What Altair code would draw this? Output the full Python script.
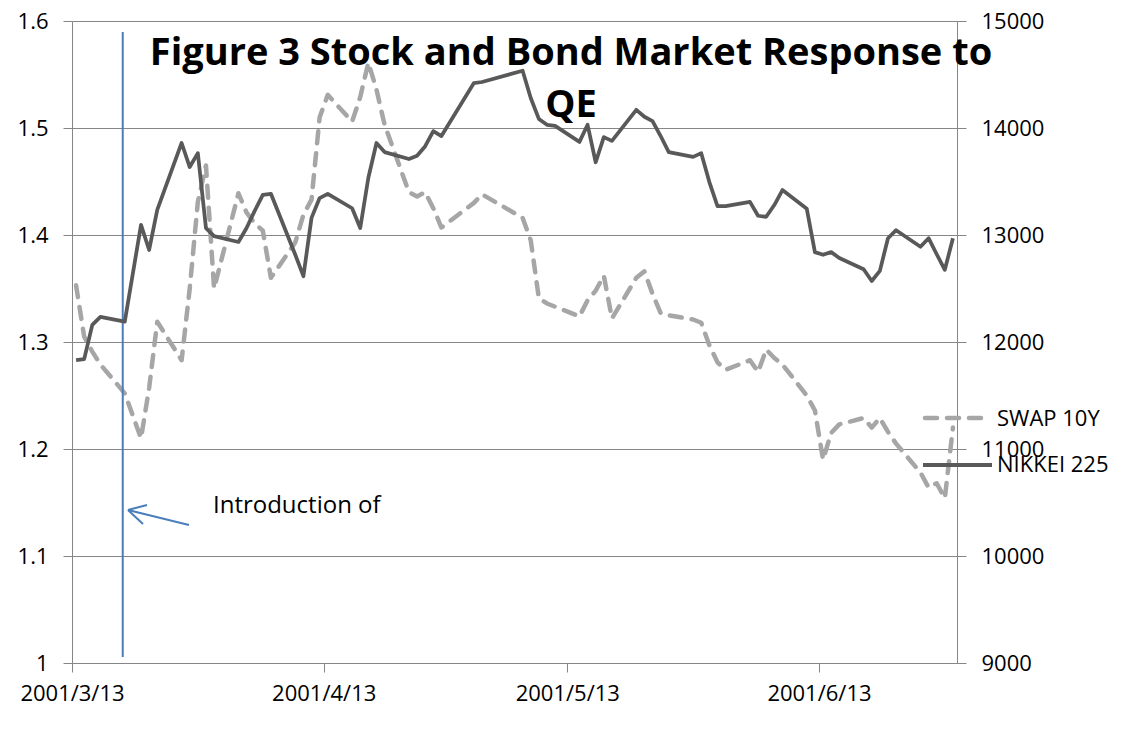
import altair as alt
import pandas as pd

# ---------------- data ----------------
TITLE_LINE1 = "Figure 3 Stock and Bond Market Response to"
TITLE_LINE2 = "QE"
SERIES = ["SWAP 10Y", "NIKKEI 225"]
ANNOTATION = "Introduction of"

dates = [
    "2001-03-13", "2001-03-14", "2001-03-15", "2001-03-16", "2001-03-19", "2001-03-21", "2001-03-22",
    "2001-03-23", "2001-03-26", "2001-03-27", "2001-03-28", "2001-03-29", "2001-03-30",
    "2001-04-02", "2001-04-03", "2001-04-04", "2001-04-05", "2001-04-06", "2001-04-09", "2001-04-10",
    "2001-04-11", "2001-04-12", "2001-04-13", "2001-04-16", "2001-04-17", "2001-04-18", "2001-04-19",
    "2001-04-20", "2001-04-23", "2001-04-24", "2001-04-25", "2001-04-26", "2001-04-27",
    "2001-05-01", "2001-05-02", "2001-05-07", "2001-05-08", "2001-05-09", "2001-05-10", "2001-05-11",
    "2001-05-14", "2001-05-15", "2001-05-16", "2001-05-17", "2001-05-18", "2001-05-21", "2001-05-22",
    "2001-05-23", "2001-05-24", "2001-05-25", "2001-05-28", "2001-05-29", "2001-05-30", "2001-05-31",
    "2001-06-01", "2001-06-04", "2001-06-05", "2001-06-06", "2001-06-07", "2001-06-08", "2001-06-11",
    "2001-06-12", "2001-06-13", "2001-06-14", "2001-06-15", "2001-06-18", "2001-06-19", "2001-06-20",
    "2001-06-21", "2001-06-22", "2001-06-25", "2001-06-26", "2001-06-27", "2001-06-28", "2001-06-29",
]

swap_10y = [
    1.353, 1.305, 1.291, 1.279, 1.252, 1.210, 1.257, 1.319, 1.283, 1.350, 1.431, 1.465, 1.350,
    1.439, 1.421, 1.411, 1.404, 1.360, 1.393, 1.419, 1.433, 1.510, 1.531, 1.506, 1.529, 1.561, 1.536,
    1.503, 1.440, 1.436, 1.440, 1.425, 1.407,
    1.430, 1.438, 1.416, 1.395, 1.341, 1.336, 1.333, 1.324, 1.339, 1.348, 1.362, 1.322, 1.360, 1.366,
    1.345, 1.327, 1.325, 1.321, 1.318, 1.297, 1.281,
    1.274, 1.283, 1.272, 1.293, 1.285, 1.279, 1.250, 1.236, 1.190, 1.215, 1.223, 1.229, 1.220, 1.229,
    1.216, 1.205, 1.178, 1.164, 1.168, 1.154, 1.220,
]

nikkei_225 = [
    11830, 11840, 12160, 12235, 12190, 13095, 12860, 13235, 13860, 13635, 13765, 13065, 12990,
    12935, 13065, 13225, 13375, 13385, 12815, 12615, 13160, 13345, 13385, 13250, 13065, 13535, 13860,
    13775, 13710, 13740, 13830, 13970, 13925,
    14420, 14430, 14535, 14280, 14085, 14030, 14020, 13870, 14030, 13680, 13915, 13880, 14170, 14105,
    14065, 13925, 13775, 13730, 13765, 13495, 13270,
    13270, 13310, 13180, 13170, 13280, 13420, 13245, 12840, 12815, 12840, 12785, 12680, 12570, 12665,
    12970, 13045, 12890, 12970, 12820, 12675, 12970,
]

x_tick_dates = [(2001, 3, 13), (2001, 4, 13), (2001, 5, 13), (2001, 6, 13)]
x_domain = [(2001, 3, 13), (2001, 6, 30)]
left_ticks = [1.0, 1.1, 1.2, 1.3, 1.4, 1.5, 1.6]
right_ticks = [9000, 10000, 11000, 12000, 13000, 14000, 15000]

# QE introduction marker (vertical line) and arrow annotation, in data units
qe_line_date = ["2001-03-19T06:00:00"]
qe_line_lo = [1.0055]
qe_line_hi = [1.5897]
arrow_x1 = ["2001-03-27T09:50:00", "2001-03-19T21:30:00", "2001-03-19T21:30:00"]
arrow_y1 = [1.129, 1.143, 1.143]
arrow_x2 = ["2001-03-19T21:30:00", "2001-03-22T05:40:00", "2001-03-21T17:50:00"]
arrow_y2 = [1.143, 1.1477, 1.1299]
annot_date = ["2001-03-30T08:40:00"]
annot_val = [1.1405]

# ---------------- styling ----------------
FONT = "Open Sans"
SWAP_COLOR = "#A6A6A6"
NIKKEI_COLOR = "#595959"
BLUE = "#4A7EBB"
AXIS_GRAY = "#868686"

swap_df = pd.DataFrame({"date": [d + "T12:00:00" for d in dates], "value": swap_10y})
nikkei_df = pd.DataFrame({"date": [d + "T12:00:00" for d in dates], "value": nikkei_225})
one = pd.DataFrame({"k": [0]})


def dt(t):
    return alt.DateTime(year=t[0], month=t[1], date=t[2])


x_scale = alt.Scale(domain=[dt(x_domain[0]), dt(x_domain[1])], nice=False)
x_axis = alt.Axis(
    values=[dt(t) for t in x_tick_dates], format="%Y/%-m/%-d", formatType="time",
    title=None, grid=False, tickSize=9, labelPadding=11, labelFontSize=22,
    labelFont=FONT, labelColor="#000000", domainColor=AXIS_GRAY, tickColor=AXIS_GRAY,
    labelAngle=0, labelAlign="center", labelOverlap=False, labelFlush=False,
)
left_scale = alt.Scale(domain=[1.0, 1.6], zero=False, nice=False)
left_axis = alt.Axis(
    values=left_ticks, format=".2~f", title=None, grid=True, gridColor=AXIS_GRAY, gridWidth=1,
    tickSize=9, labelPadding=15, labelFontSize=22, labelFont=FONT, labelColor="#000000",
    domainColor=AXIS_GRAY, tickColor=AXIS_GRAY, orient="left",
)
right_scale = alt.Scale(domain=[9000, 15000], zero=False, nice=False)
right_axis = alt.Axis(
    values=right_ticks, format="d", title=None, grid=False,
    tickSize=9, labelPadding=15, labelFontSize=22, labelFont=FONT, labelColor="#000000",
    domainColor=AXIS_GRAY, tickColor=AXIS_GRAY, orient="right",
)


def X(field):
    return alt.X(field, scale=x_scale, axis=x_axis)


def YL(field):
    return alt.Y(field, scale=left_scale, axis=left_axis)


swap_line = alt.Chart(swap_df).mark_line(
    color=SWAP_COLOR, strokeWidth=4.5, strokeDash=[12, 10], strokeCap="round", strokeJoin="round"
).encode(x=X("date:T"), y=YL("value:Q"))

qe_rule = alt.Chart(pd.DataFrame({"date": qe_line_date, "value": qe_line_lo, "value2": qe_line_hi})).mark_rule(
    color=BLUE, strokeWidth=2
).encode(x=X("date:T"), y=YL("value:Q"), y2="value2:Q")

arrow = alt.Chart(pd.DataFrame({"date": arrow_x1, "value": arrow_y1, "date2": arrow_x2, "value2": arrow_y2})).mark_rule(
    color=BLUE, strokeWidth=2
).encode(x=X("date:T"), x2="date2:T", y=YL("value:Q"), y2="value2:Q")

annot = alt.Chart(pd.DataFrame({"date": annot_date, "value": annot_val, "t": [ANNOTATION]})).mark_text(
    font=FONT, fontSize=24, align="left", baseline="alphabetic", color="#000000"
).encode(x=X("date:T"), y=YL("value:Q"), text="t:N")

title = alt.Chart(one).mark_text(
    text=[TITLE_LINE1, TITLE_LINE2], font=FONT, fontSize=38, fontWeight="bold",
    align="center", baseline="alphabetic", lineHeight=52, color="#000000",
).encode(x=alt.value(499), y=alt.value(44))

leg_swap_line = alt.Chart(one).mark_rule(
    color=SWAP_COLOR, strokeWidth=4.5, strokeDash=[12, 10], strokeCap="round"
).encode(x=alt.value(853), x2=alt.value(916), y=alt.value(397))
leg_nikkei_line = alt.Chart(one).mark_rule(
    color=NIKKEI_COLOR, strokeWidth=4
).encode(x=alt.value(851), x2=alt.value(920), y=alt.value(444))
leg_swap_text = alt.Chart(one).mark_text(
    font=FONT, fontSize=22, align="left", baseline="middle", color="#000000"
).encode(x=alt.value(925), y=alt.value(398), text=alt.value(SERIES[0]))
leg_nikkei_text = alt.Chart(one).mark_text(
    font=FONT, fontSize=22, align="left", baseline="middle", color="#000000"
).encode(x=alt.value(925), y=alt.value(444), text=alt.value(SERIES[1]))

nikkei_line = alt.Chart(nikkei_df).mark_line(
    color=NIKKEI_COLOR, strokeWidth=3.75, strokeJoin="round"
).encode(
    x=X("date:T"),
    y=alt.Y("value:Q", scale=right_scale, axis=right_axis),
)

left_group = alt.layer(swap_line, qe_rule, arrow, annot, title)
right_group = alt.layer(nikkei_line, leg_swap_line, leg_nikkei_line, leg_swap_text, leg_nikkei_text)

chart = alt.layer(left_group, right_group).resolve_scale(y="independent").properties(
    width=885, height=642,
    padding={"left": 64, "top": 13, "right": 160, "bottom": 50},
    autosize=alt.AutoSizeParams(type="none"),
    background="white",
).configure_view(stroke=None)

chart.save("out.html", embed_options={"renderer": "svg", "actions": False})
